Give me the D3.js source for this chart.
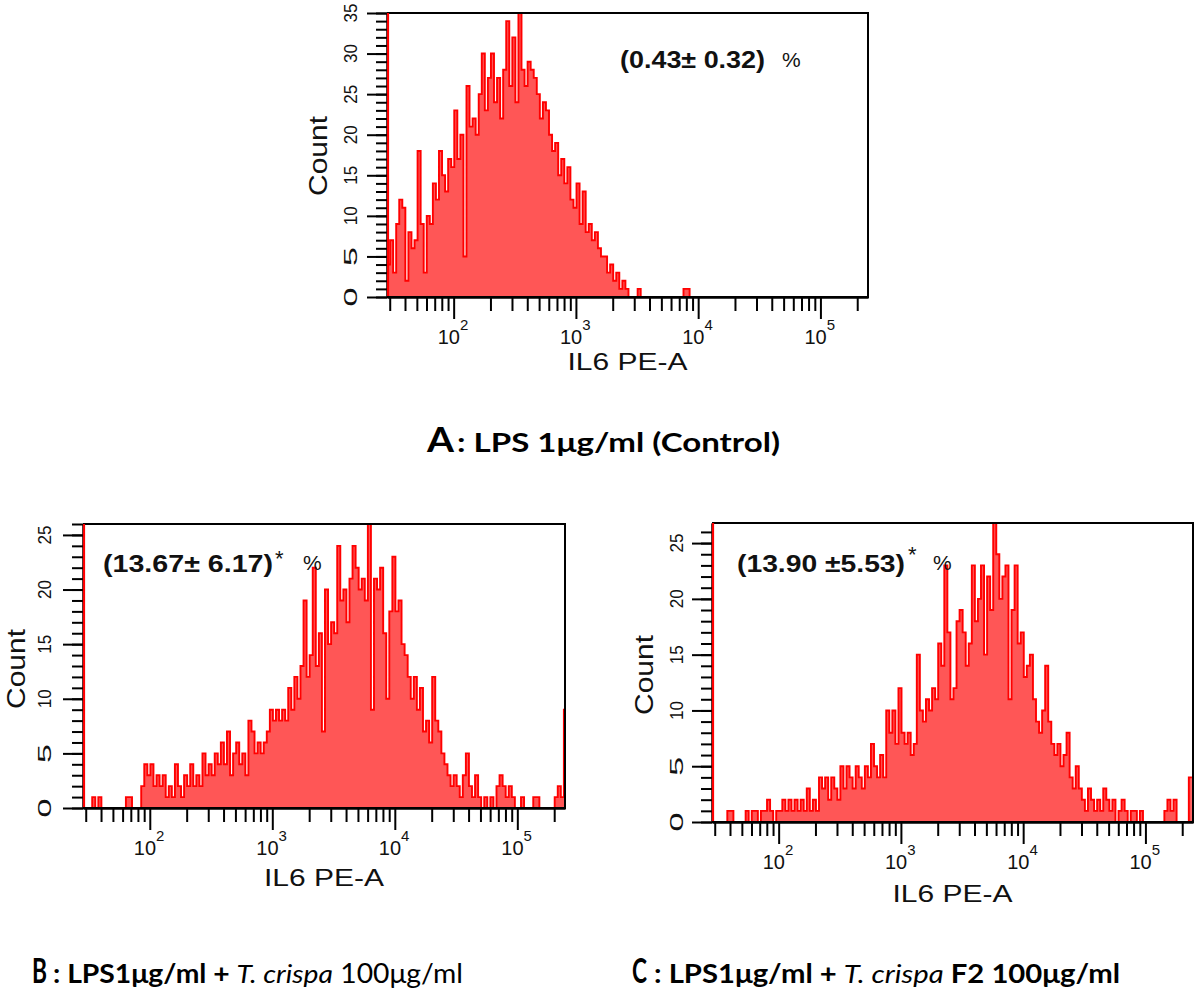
<!DOCTYPE html>
<html><head><meta charset="utf-8">
<script src="https://cdn.jsdelivr.net/npm/d3@7"></script>
<style>body{margin:0;background:#fff}svg{display:block}</style>
</head><body>
<svg id="c" width="1200" height="990"></svg>
<script>
// ---------- data ----------
const binStartLog = 1.455;      // log10 of first bin edge
const binStep = 0.025;          // bin width in log10 units
const xDomain = [28.5, 245000];
const decades = [100, 1000, 10000, 100000];
const decadeExp = ["2", "3", "4", "5"];
const xAxisTitle = "IL6 PE-A";
const yAxisTitle = "Count";

const countsA = [4,7,3,9,12,11,2,8,6,7,
 18,9,3,10,9,14,12,18,15,13,
 17,16,23,17,20,5,26,21,22,20,
 25,30,23,27,30,24,27,22,28,34,
 26,32,24,35,28,26,29,28,27,25,
 22,24,23,20,18,19,15,17,14,16,
 12,11,14,9,13,8,9,7,8,6,
 5,5,3,4,2,3,1,2,1,0,
 0,0,1,0,0,0,0,0,0,0,
 0,0,0,0,0,0,0,1,1,0];
const countsB = [0,0,0,1,0,1,0,0,0,0,
 0,0,0,0,1,1,0,0,0,2,
 4,3,4,2,3,2,3,1,2,1,
 4,2,1,3,2,4,2,3,2,5,
 3,4,3,5,4,6,4,7,3,5,
 6,4,5,3,8,7,5,6,5,6,
 7,9,8,9,8,9,8,11,9,12,
 10,13,19,12,14,22,13,16,7,20,
 15,17,16,24,19,20,17,21,24,22,
 20,21,19,26,9,21,20,22,16,10,
 18,23,18,19,15,14,12,10,12,9,
 11,7,8,6,12,8,7,5,4,3,
 2,3,2,1,3,5,2,1,3,1,
 0,1,0,1,0,2,3,2,1,2,
 1,0,0,1,0,0,0,1,1,0,
 0,0,0,0,1,2,1,9];
const countsC = [0,0,0,0,0,1,1,0,0,0,
 0,1,0,1,1,0,1,1,2,1,
 0,1,1,2,1,2,1,2,1,2,
 1,3,1,2,1,4,3,4,2,4,
 3,2,5,3,5,4,3,5,4,3,
 5,4,7,5,4,6,4,10,8,10,
 7,12,8,7,8,6,7,15,10,9,
 11,10,12,11,16,14,23,17,11,12,
 18,19,17,14,16,23,18,20,23,15,
 22,19,27,24,20,22,23,11,19,23,
 16,17,13,14,15,11,9,8,10,14,
 9,7,6,7,5,6,8,4,3,5,
 3,2,1,3,2,1,2,1,3,2,
 1,2,0,1,2,1,0,1,1,0,
 1,0,0,0,0,0,0,0,1,2,
 1,2,0,0,0,0,4];

const yMaxA = 35, yMaxB = 26, yMaxC = 26.8;
const pctA = "(0.43\u00b1 0.32)", pctB = "(13.67\u00b1 6.17)", pctC = "(13.90 \u00b15.53)";
const starB = "*", starC = "*", pctSign = "%";
const titleLetters = ["A", "B", "C"];

// ---------- layout ----------
const panels = [
 {id:"A", counts:countsA, yMax:yMaxA, left:387, right:868, top:13, bottom:297,
  pct:pctA, star:null, pctX:620, pctW:145, pctY:68, signX:782, signY:67,
  yLabX:357, countX:327, countY:156, xTitleY:370},
 {id:"B", counts:countsB, yMax:yMaxB, left:83, right:565, top:524, bottom:808,
  pct:pctB, star:starB, pctX:103, pctW:170, pctY:572, starX:275, starY:566, signX:303, signY:570,
  yLabX:51, countX:25, countY:669, xTitleY:886},
 {id:"C", counts:countsC, yMax:yMaxC, left:712, right:1193, top:523, bottom:822,
  pct:pctC, star:starC, pctX:737, pctW:168, pctY:572, starX:908, starY:562, signX:933, signY:570,
  yLabX:683, countX:653, countY:675, xTitleY:902}
];

const svg = d3.select("#c");
const RED = "#ff0000", FILL = "#ff5656";
const SANS = "'Liberation Sans', Arial, sans-serif";

panels.forEach(cfg => {
  const x = d3.scaleLog().domain(xDomain).range([cfg.left, cfg.right]);
  const y = d3.scaleLinear().domain([0, cfg.yMax]).range([cfg.bottom, cfg.top]);
  const g = svg.append("g");
  const clipId = "clip" + cfg.id;
  svg.append("clipPath").attr("id", clipId).append("rect")
    .attr("x", cfg.left).attr("y", cfg.top - 1)
    .attr("width", cfg.right - cfg.left).attr("height", cfg.bottom - cfg.top + 1);

  const pts = cfg.counts.map((c, i) => ({v: Math.pow(10, binStartLog + i * binStep), c}));
  pts.push({v: Math.pow(10, binStartLog + cfg.counts.length * binStep), c: cfg.counts[cfg.counts.length - 1]});

  const area = d3.area().curve(d3.curveStepAfter).x(d => x(d.v)).y0(y(0)).y1(d => y(d.c));
  const line = d3.line().curve(d3.curveStepAfter).x(d => x(d.v)).y(d => y(d.c));
  const hg = g.append("g").attr("clip-path", `url(#${clipId})`);
  hg.append("path").datum(pts).attr("d", area).attr("fill", FILL);
  hg.append("path").datum(pts).attr("d", line).attr("fill", "none")
    .attr("stroke", RED).attr("stroke-width", 1.9).attr("stroke-linejoin", "miter");

  // x axis ticks
  const minor = [];
  [10, 100, 1000, 10000, 100000].forEach(d => { for (let k = 2; k <= 9; k++) { const v = d * k; if (v >= xDomain[0] && v <= xDomain[1]) minor.push(v); } });
  const axMinor = d3.axisBottom(x).tickValues(minor).tickSize(14).tickFormat("").tickSizeOuter(0);
  const axMajor = d3.axisBottom(x).tickValues(decades).tickSize(22).tickFormat("").tickSizeOuter(0);
  [axMinor, axMajor].forEach(ax => {
    const a = g.append("g").attr("transform", `translate(0,${cfg.bottom})`).call(ax);
    a.select(".domain").attr("stroke", "#000").attr("stroke-width", 2);
    a.selectAll(".tick line").attr("stroke", "#000").attr("stroke-width", 2);
  });
  // y axis ticks
  const yAll = d3.range(0, Math.floor(cfg.yMax) + 1, 1);
  const yMaj = yAll.filter(v => v % 5 === 0);
  const ayMinor = d3.axisLeft(y).tickValues(yAll).tickSize(11).tickFormat("").tickSizeOuter(0);
  const ayMajor = d3.axisLeft(y).tickValues(yMaj).tickSize(20).tickFormat("").tickSizeOuter(0);
  [ayMinor, ayMajor].forEach(ax => {
    const a = g.append("g").attr("transform", `translate(${cfg.left},0)`).call(ax);
    a.select(".domain").attr("stroke", "#000").attr("stroke-width", 2);
    a.selectAll(".tick line").attr("stroke", "#000").attr("stroke-width", 2);
  });
  // frame top/right
  g.append("line").attr("x1", cfg.left).attr("x2", cfg.right + 1).attr("y1", cfg.top).attr("y2", cfg.top).attr("stroke", "#000").attr("stroke-width", 2);
  g.append("line").attr("x1", cfg.right).attr("x2", cfg.right).attr("y1", cfg.top).attr("y2", cfg.bottom).attr("stroke", "#000").attr("stroke-width", 2);
  // left edge red line
  g.append("line").attr("x1", cfg.left + 1).attr("x2", cfg.left + 1).attr("y1", cfg.top).attr("y2", cfg.bottom).attr("stroke", RED).attr("stroke-width", 2.2);
  // bottom baseline in black over the histogram
  g.append("line").attr("x1", cfg.left).attr("x2", cfg.right + 1).attr("y1", cfg.bottom).attr("y2", cfg.bottom).attr("stroke", "#000").attr("stroke-width", 2);

  // y tick labels (rotated)
  yMaj.forEach(v => {
    g.append("text").attr("transform", `translate(${cfg.yLabX},${y(v)}) rotate(-90)`)
      .attr("text-anchor", "middle").attr("font-family", SANS).attr("font-size", 18)
      .attr("fill", "#111").attr("textLength", 19).attr("lengthAdjust", "spacingAndGlyphs").text(v);
  });
  // x tick labels: "10" with superscript exponent, as one text
  decades.forEach((v, i) => {
    const t = g.append("text").attr("x", x(v) - 16).attr("y", cfg.bottom + 47)
      .attr("font-family", SANS).attr("font-size", 20).attr("fill", "#111");
    t.append("tspan").text("10");
    t.append("tspan").attr("dx", 0).attr("dy", -14).attr("font-size", 15).text(decadeExp[i]);
  });
  // axis titles
  g.append("text").attr("x", (cfg.left + cfg.right) / 2).attr("y", cfg.xTitleY).attr("text-anchor", "middle")
    .attr("font-family", SANS).attr("font-size", 24).attr("fill", "#111")
    .attr("textLength", 120).attr("lengthAdjust", "spacingAndGlyphs").text(xAxisTitle);
  g.append("text").attr("transform", `translate(${cfg.countX},${cfg.countY}) rotate(-90)`).attr("text-anchor", "middle")
    .attr("font-family", SANS).attr("font-size", 25).attr("fill", "#111")
    .attr("textLength", 80).attr("lengthAdjust", "spacingAndGlyphs").text(yAxisTitle);
  // percentage annotation
  g.append("text").attr("x", cfg.pctX).attr("y", cfg.pctY).attr("font-family", SANS).attr("font-weight", "bold")
    .attr("font-size", 24).attr("fill", "#111").attr("textLength", cfg.pctW).attr("lengthAdjust", "spacingAndGlyphs").text(cfg.pct);
  if (cfg.star) g.append("text").attr("x", cfg.starX).attr("y", cfg.starY).attr("font-family", SANS)
    .attr("font-size", 22).attr("fill", "#111").text(cfg.star);
  g.append("text").attr("x", cfg.signX).attr("y", cfg.signY).attr("font-family", SANS)
    .attr("font-size", 21).attr("fill", "#111").text(pctSign);
});

// ---------- panel captions ----------
const CAP = "Lato, 'Open Sans', sans-serif";
function caption(letter, lx, lw, baseline, parts, rx, rw) {
  svg.append("text").attr("x", lx).attr("y", baseline).attr("font-family", CAP).attr("font-size", 34)
    .attr("font-weight", 700).attr("fill", "#000").attr("textLength", lw).attr("lengthAdjust", "spacingAndGlyphs").text(letter);
  const t = svg.append("text").attr("x", rx).attr("y", baseline).attr("font-family", CAP).attr("font-size", 26)
    .attr("fill", "#000").attr("textLength", rw).attr("lengthAdjust", "spacingAndGlyphs");
  parts.forEach(p => t.append("tspan").attr("font-weight", p.w).attr("font-style", p.i ? "italic" : "normal").text(p.t));
}
caption(titleLetters[0], 427, 27, 452, [{t: ": LPS 1\u03bcg/ml (Control)", w: 700}], 457, 323);
caption(titleLetters[1], 32, 15, 983, [{t: ": LPS1\u03bcg/ml + ", w: 700}, {t: "T. crispa", w: 400, i: true}, {t: " 100\u03bcg/ml", w: 400}], 53, 410);
caption(titleLetters[2], 632, 15, 983, [{t: ": LPS1\u03bcg/ml + ", w: 700}, {t: "T. crispa", w: 400, i: true}, {t: " F2 100\u03bcg/ml", w: 700}], 654, 466);
</script>
</body></html>
